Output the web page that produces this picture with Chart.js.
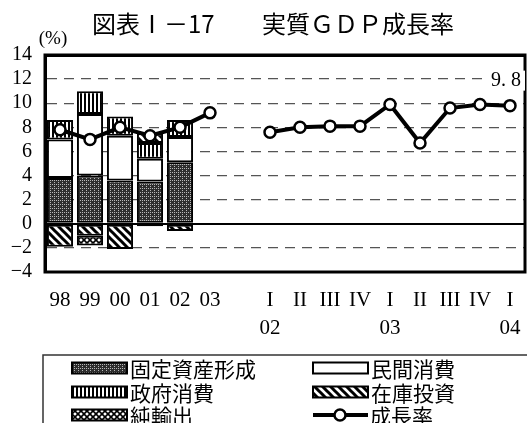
<!DOCTYPE html>
<html>
<head>
<meta charset="utf-8">
<script src="https://cdn.jsdelivr.net/npm/chart.js@4"></script>
<style>
  html, body { margin: 0; padding: 0; background: #fff; }
  #wrap { width: 527px; height: 423px; }
</style>
</head>
<body>
<div id="wrap"><canvas id="gdpChart" width="527" height="423"></canvas></div>
<script>
// categories: 6 years, an empty slot, then quarters 02 I .. 04 I
const categories = ['98', '99', '00', '01', '02', '03', '', ['I', '02'], 'II', 'III', 'IV', ['I', '03'], 'II', 'III', 'IV', ['I', '04']];
const fixedCapital = [3.8, 4.0, 3.6, 3.5, 5.1];
const privateConsumption = [3.2, 5.1, 3.7, 1.9, 2.1];
const govConsumption = [1.6, 1.9, 1.6, 1.3, 1.4];
const inventory = [-1.9, -1.0, -2.1, 0.8, -0.6];
const netExports = [null, -0.8, null, -0.2, null];
const growthRate = [7.8, 7.0, 8.0, 7.3, 8.0, 9.2, null, 7.6, 8.0, 8.1, 8.1, 9.9, 6.7, 9.6, 9.9, 9.8];
const yMin = -4, yMax = 14, yStep = 2;

const serif = '"Liberation Serif", "DejaVu Serif", serif';
const jp = '"Noto Sans CJK JP", sans-serif';

function makePattern(type) {
    const c = document.createElement('canvas');
    const ctx = c.getContext('2d');
    if (type === 'dots') {
        c.width = 4; c.height = 4;
        ctx.fillStyle = '#2e2e2e';
        ctx.fillRect(0, 0, 4, 4);
        ctx.fillStyle = '#b8b8b8';
        ctx.fillRect(0, 0, 1, 1);
        ctx.fillRect(2, 2, 1, 1);
        ctx.fillRect(2, 0, 1, 1);
    } else if (type === 'vlines') {
        c.width = 4; c.height = 4;
        ctx.fillStyle = '#fff';
        ctx.fillRect(0, 0, 4, 4);
        ctx.fillStyle = '#000';
        ctx.fillRect(0, 0, 2, 4);
    } else if (type === 'diag') {
        c.width = 8; c.height = 8;
        ctx.fillStyle = '#fff';
        ctx.fillRect(0, 0, 8, 8);
        ctx.strokeStyle = '#000';
        ctx.lineWidth = 3;
        ctx.beginPath();
        ctx.moveTo(-2, -2); ctx.lineTo(10, 10);
        ctx.moveTo(2, -6); ctx.lineTo(14, 6);
        ctx.moveTo(-6, 2); ctx.lineTo(6, 14);
        ctx.stroke();
    } else if (type === 'cross') {
        c.width = 6; c.height = 6;
        ctx.fillStyle = '#fff';
        ctx.fillRect(0, 0, 6, 6);
        ctx.strokeStyle = '#000';
        ctx.lineWidth = 1.6;
        ctx.beginPath();
        ctx.moveTo(-1, -1); ctx.lineTo(7, 7);
        ctx.moveTo(7, -1); ctx.lineTo(-1, 7);
        ctx.stroke();
    }
    return ctx.createPattern(c, 'repeat');
}

const pDots = makePattern('dots');
const pVlines = makePattern('vlines');
const pDiag = makePattern('diag');
const pCross = makePattern('cross');

function barSet(label, data, fill, order) {
    return {
        type: 'bar', label, data, order,
        stack: 'bars',
        backgroundColor: fill,
        borderColor: '#000',
        borderWidth: 2,
        borderSkipped: false,
        barPercentage: 0.87,
        categoryPercentage: 1
    };
}

// solid black for the zero line and the top/bottom frame lines, dashed grey otherwise
function isSolid(v) {
    return v === 0 || v === yMin || v === yMax;
}

const decor = {
    id: 'decor',
    afterDraw(chart) {
        const ctx = chart.ctx;
        const a = chart.chartArea;
        ctx.save();
        ctx.setLineDash([]);

        // plot frame
        ctx.strokeStyle = '#000';
        ctx.lineWidth = 3;
        ctx.strokeRect(a.left, a.top, a.right - a.left, a.bottom - a.top);

        // title
        ctx.fillStyle = '#000';
        ctx.textBaseline = 'middle';
        ctx.textAlign = 'left';
        ctx.font = '24px ' + jp;
        ctx.fillText('図表Ⅰ－17', 92, 24);
        ctx.fillText('実質ＧＤＰ成長率', 262, 24);

        // unit
        ctx.font = '19px ' + serif;
        ctx.textAlign = 'center';
        ctx.fillText('(%)', 53, 39);

        // last value label
        const lineMeta = chart.getDatasetMeta(0);
        const last = growthRate.length - 1;
        const pt = lineMeta.data[last];
        ctx.font = '20px ' + serif;
        const txt = growthRate[last].toFixed(1).replace('.', '. ');
        const w = ctx.measureText(txt).width;
        ctx.fillStyle = '#fff';
        ctx.fillRect(pt.x - 4 - w / 2 - 4, pt.y - 35, w + 8, 20);
        ctx.fillStyle = '#000';
        ctx.fillText(txt, pt.x - 4, pt.y - 25);

        // legend
        ctx.strokeStyle = '#333';
        ctx.lineWidth = 1.5;
        ctx.strokeRect(43, 355, 500, 100);
        const rows = [368, 392, 415];
        const items = [
            [72, rows[0], pDots, '固定資産形成'],
            [72, rows[1], pVlines, '政府消費'],
            [72, rows[2], pCross, '純輸出'],
            [313, rows[0], '#fff', '民間消費'],
            [313, rows[1], pDiag, '在庫投資']
        ];
        ctx.font = '21px ' + jp;
        ctx.textAlign = 'left';
        items.forEach(([x, y, fill, label]) => {
            ctx.fillStyle = fill;
            ctx.fillRect(x, y - 5.5, 55, 11);
            ctx.strokeStyle = '#000';
            ctx.lineWidth = 2;
            ctx.strokeRect(x, y - 5.5, 55, 11);
            ctx.fillStyle = '#000';
            ctx.fillText(label, x + 58, y + 1);
        });
        // growth line legend
        const ly = rows[2];
        ctx.strokeStyle = '#000';
        ctx.lineWidth = 4;
        ctx.beginPath();
        ctx.moveTo(313, ly);
        ctx.lineTo(368, ly);
        ctx.stroke();
        ctx.beginPath();
        ctx.arc(340, ly, 5.5, 0, Math.PI * 2);
        ctx.fillStyle = '#fff';
        ctx.fill();
        ctx.lineWidth = 2.5;
        ctx.stroke();
        ctx.fillStyle = '#000';
        ctx.fillText('成長率', 370, ly + 1);

        ctx.restore();
    }
};

new Chart(document.getElementById('gdpChart'), {
    data: {
        labels: categories,
        datasets: [
            {
                type: 'line',
                label: '成長率',
                data: growthRate,
                stack: 'line',
                order: 0,
                borderColor: '#000',
                borderWidth: 4,
                pointRadius: 5.5,
                pointBackgroundColor: '#fff',
                pointBorderColor: '#000',
                pointBorderWidth: 2.5,
                spanGaps: false
            },
            barSet('固定資産形成', fixedCapital, pDots, 1),
            barSet('民間消費', privateConsumption, '#fff', 2),
            barSet('政府消費', govConsumption, pVlines, 3),
            barSet('在庫投資', inventory, pDiag, 4),
            barSet('純輸出', netExports, pCross, 5)
        ]
    },
    options: {
        responsive: false,
        animation: false,
        layout: { autoPadding: false, padding: { top: 55, bottom: 81, left: 0, right: 2 } },
        plugins: {
            legend: { display: false },
            title: { display: false },
            tooltip: { enabled: false }
        },
        scales: {
            x: {
                stacked: true,
                // tick marks hidden with the grid, their length only pushes labels down
                grid: { display: false, drawTicks: true, tickLength: 10 },
                border: { display: false },
                ticks: {
                    color: '#000',
                    font: { family: serif, size: 21, lineHeight: 28 / 21 },
                    padding: 4,
                    maxRotation: 0,
                    autoSkip: false
                },
                afterFit(s) {
                    s.height = 70;
                    s.paddingLeft = 0;
                    s.paddingRight = 0;
                }
            },
            y: {
                stacked: true,
                min: yMin,
                max: yMax,
                grid: {
                    drawTicks: false,
                    color: c => (isSolid(c.tick.value) ? '#000' : '#555'),
                    lineWidth: c => (c.tick.value === yMax ? 3 : (isSolid(c.tick.value) ? 2 : 1.3))
                },
                border: {
                    display: true,
                    color: '#000',
                    width: 3,
                    dash: c => (c.tick && !isSolid(c.tick.value) ? [10, 7] : [])
                },
                ticks: {
                    stepSize: yStep,
                    autoSkip: false,
                    color: '#000',
                    font: { family: serif, size: 20 },
                    padding: 13,
                    callback: v => String(v).replace('-', '−')
                },
                afterFit(s) { s.width = 45; }
            }
        }
    },
    plugins: [decor]
});
</script>
</body>
</html>
